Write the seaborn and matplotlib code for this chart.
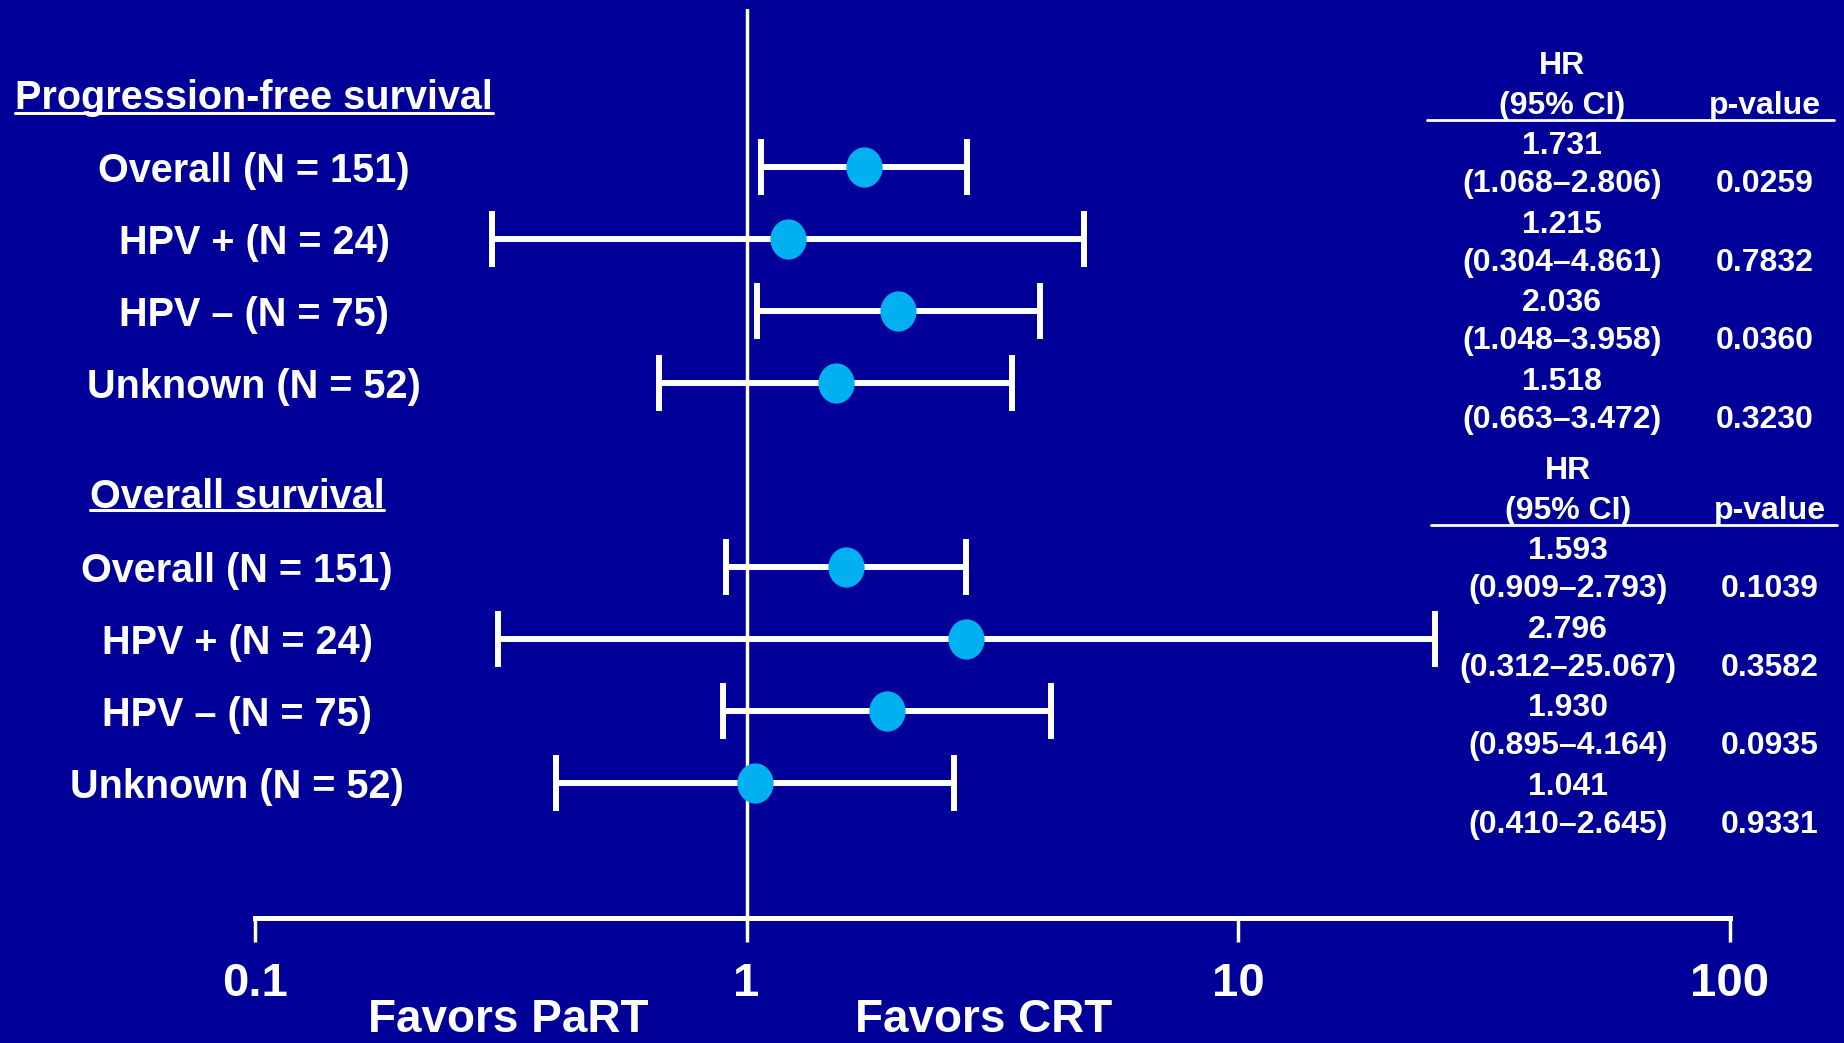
import numpy as np
import pandas as pd
import matplotlib
matplotlib.use("Agg")
import matplotlib.pyplot as plt
import matplotlib.transforms as mtransforms
from matplotlib.lines import Line2D
from matplotlib.path import Path
from matplotlib.ticker import FixedLocator, FixedFormatter, NullLocator
import seaborn as sns

# ---- data ----
subgroups = ["Overall (N = 151)", "HPV + (N = 24)", "HPV \u2013 (N = 75)", "Unknown (N = 52)"]

pfs_hr = [1.731, 1.215, 2.036, 1.518]
pfs_lo = [1.068, 0.304, 1.048, 0.663]
pfs_hi = [2.806, 4.861, 3.958, 3.472]
pfs_p = ["0.0259", "0.7832", "0.0360", "0.3230"]

os_hr = [1.593, 2.796, 1.930, 1.041]
os_lo = [0.909, 0.312, 0.895, 0.410]
os_hi = [2.793, 25.067, 4.164, 2.645]
os_p = ["0.1039", "0.3582", "0.0935", "0.9331"]

x_ticks = [0.1, 1, 10, 100]
x_ticklabels = ["0.1", "1", "10", "100"]

# ---- style ----
BG = "#000099"
DOT = "#00B0F0"
W, H = 1844, 1043
DY = 4  # text nudge (px) so visual centres line up

sns.set_style("white", {"axes.facecolor": BG, "figure.facecolor": BG})
plt.rcParams["font.family"] = ["Liberation Sans", "DejaVu Sans"]
plt.rcParams["font.weight"] = "bold"
plt.rcParams["text.color"] = "white"


def fx(px):
    return px / W


def fy(py):
    return 1 - py / H


fig = plt.figure(figsize=(W / 100, H / 100), dpi=100)
ax = fig.add_axes([fx(255), fy(918), fx(1730) - fx(255), fy(9) - fy(918)])
ax.set_facecolor(BG)

# rows: one unit per subgroup line
row_px, first_px = 72, 167
pfs_rows = np.arange(len(subgroups), dtype=float)
os_rows = pfs_rows + 5.55

df = pd.DataFrame({
    "label": subgroups * 2,
    "hr": pfs_hr + os_hr,
    "lo": pfs_lo + os_lo,
    "hi": pfs_hi + os_hi,
    "row": np.concatenate([pfs_rows, os_rows]),
})

ax.set_xscale("log")
ax.axvline(1, color="white", lw=2.5, zorder=1)
ax.errorbar(df["hr"], df["row"], xerr=[df["hr"] - df["lo"], df["hi"] - df["hr"]],
            fmt="none", ecolor="white", elinewidth=4.3, capsize=20, capthick=4.3, zorder=2)
circ = Path.unit_circle()
ell = Path(circ.vertices * [0.9, 1.0], circ.codes)
sns.scatterplot(data=df, x="hr", y="row", ax=ax, marker=ell, s=29 ** 2,
                color=DOT, linewidth=0, zorder=3, legend=False)

ax.set_xlim(0.1, 100)
ax.set_ylim((918 - first_px) / row_px, (9 - first_px) / row_px)
ax.set_xlabel(""); ax.set_ylabel("")
ax.set_yticks([])
ax.xaxis.set_major_locator(FixedLocator(x_ticks))
ax.xaxis.set_major_formatter(FixedFormatter(x_ticklabels))
ax.xaxis.set_minor_locator(NullLocator())
ax.tick_params(axis="x", bottom=True, direction="out", length=17, width=2.5,
               colors="white", labelsize=34, pad=15)
for s in ["top", "left", "right"]:
    ax.spines[s].set_visible(False)
ax.spines["bottom"].set_color("white")
ax.spines["bottom"].set_linewidth(3.6)

# subgroup labels
trans = mtransforms.blended_transform_factory(fig.transFigure, ax.transData)
for lab, r in zip(subgroups, pfs_rows):
    ax.text(fx(254), r + DY / row_px, lab, transform=trans, ha="center", va="center",
            fontsize=28.5, clip_on=False)
for lab, r in zip(subgroups, os_rows):
    ax.text(fx(237), r + DY / row_px, lab, transform=trans, ha="center", va="center",
            fontsize=28.5, clip_on=False)

h1 = fig.text(fx(254), fy(94 + DY), "Progression-free survival", ha="center", va="center", fontsize=28.5)
h2 = fig.text(fx(237), fy(493 + DY), "Overall survival", ha="center", va="center", fontsize=28.5)

# favour labels sit right at the bottom edge, as in the slide
fig.text(fx(508), fy(1032), "Favors PaRT", ha="center", va="baseline", fontsize=33)
fig.text(fx(984), fy(1032), "Favors CRT", ha="center", va="baseline", fontsize=33)


def draw_table(hr, lo, hi, p, x_hr, x_p, y0, x_line):
    fs = 23
    y0 = y0 + DY
    fig.text(fx(x_hr), fy(y0), "HR", ha="center", va="center", fontsize=fs)
    fig.text(fx(x_hr), fy(y0 + 40), "(95% CI)", ha="center", va="center", fontsize=fs)
    fig.text(fx(x_p), fy(y0 + 40), "p-value", ha="center", va="center", fontsize=fs)
    fig.add_artist(Line2D([fx(x_line[0]), fx(x_line[1])], [fy(y0 + 54)] * 2,
                          color="white", lw=2))
    for k in range(len(hr)):
        yv = y0 + 80 + 78.7 * k
        fig.text(fx(x_hr), fy(yv), f"{hr[k]:.3f}", ha="center", va="center", fontsize=fs)
        fig.text(fx(x_hr), fy(yv + 38), f"({lo[k]:.3f}\u2013{hi[k]:.3f})",
                 ha="center", va="center", fontsize=fs)
        fig.text(fx(x_p), fy(yv + 38), p[k], ha="center", va="center", fontsize=fs)


draw_table(pfs_hr, pfs_lo, pfs_hi, pfs_p, 1562, 1765, 62, (1427, 1834))
draw_table(os_hr, os_lo, os_hi, os_p, 1568, 1770, 467, (1431, 1837))

# underline the section headers
fig.canvas.draw()
rend = fig.canvas.get_renderer()
for t, yl in [(h1, 113), (h2, 510)]:
    bb = t.get_window_extent(rend)
    fig.add_artist(Line2D([bb.x0 / W, bb.x1 / W], [fy(yl)] * 2, color="white", lw=2.2))

fig.savefig("out.png", dpi=100, facecolor=BG)
plt.close(fig)
